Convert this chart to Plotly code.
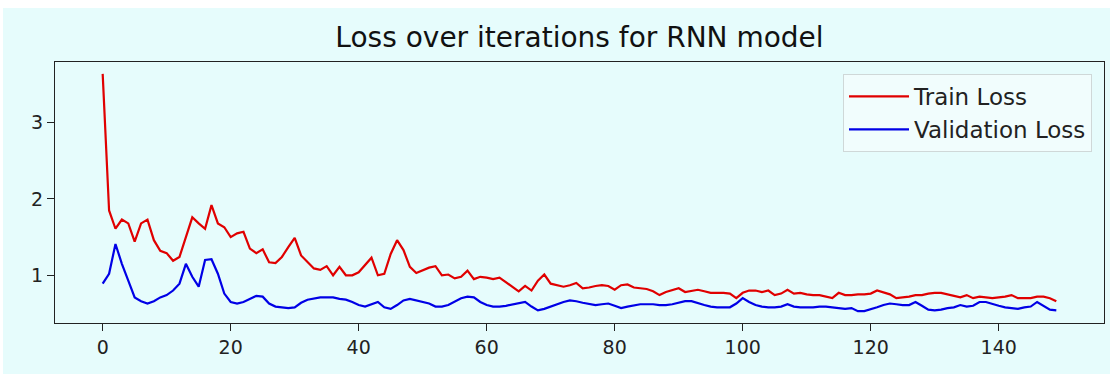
import plotly.graph_objects as go

iterations = list(range(150))

train_loss = [
    3.64, 1.85, 1.61, 1.73, 1.68, 1.44, 1.68, 1.73, 1.46, 1.32,
    1.29, 1.19, 1.24, 1.50, 1.76, 1.68, 1.61, 1.92, 1.68, 1.63,
    1.50, 1.55, 1.57, 1.35, 1.29, 1.34, 1.17, 1.16, 1.24, 1.37,
    1.49, 1.26, 1.17, 1.09, 1.07, 1.12, 1.00, 1.11, 1.00, 1.00,
    1.04, 1.13, 1.23, 1.00, 1.02, 1.28, 1.46, 1.33, 1.11, 1.03,
    1.07, 1.10, 1.12, 1.00, 1.01, 0.96, 0.98, 1.06, 0.95, 0.98,
    0.97, 0.95, 0.97, 0.91, 0.86, 0.79, 0.86, 0.80, 0.93, 1.01,
    0.89, 0.87, 0.85, 0.87, 0.90, 0.83, 0.84, 0.86, 0.87, 0.86,
    0.81, 0.87, 0.88, 0.84, 0.83, 0.82, 0.79, 0.74, 0.78, 0.80,
    0.83, 0.78, 0.80, 0.81, 0.79, 0.77, 0.77, 0.77, 0.76, 0.70,
    0.77, 0.80, 0.80, 0.78, 0.80, 0.74, 0.76, 0.81, 0.76, 0.77,
    0.75, 0.74, 0.74, 0.72, 0.70, 0.77, 0.74, 0.74, 0.75, 0.75,
    0.76, 0.80, 0.78, 0.75, 0.70, 0.71, 0.72, 0.74, 0.74, 0.76,
    0.77, 0.77, 0.75, 0.74, 0.71, 0.74, 0.70, 0.72, 0.71, 0.70,
    0.71, 0.72, 0.74, 0.70, 0.70, 0.70, 0.72, 0.72, 0.70, 0.66,
]

val_loss = [
    0.89, 1.02, 1.41, 1.15, 0.93, 0.71, 0.66, 0.63, 0.66, 0.71,
    0.74, 0.80, 0.89, 1.15, 0.98, 0.85, 1.20, 1.21, 1.02, 0.76,
    0.65, 0.63, 0.65, 0.69, 0.73, 0.72, 0.63, 0.59, 0.58, 0.57,
    0.58, 0.64, 0.68, 0.70, 0.71, 0.71, 0.71, 0.69, 0.68, 0.65,
    0.61, 0.59, 0.62, 0.65, 0.58, 0.56, 0.61, 0.67, 0.69, 0.67,
    0.66, 0.63, 0.59, 0.59, 0.61, 0.65, 0.70, 0.72, 0.71, 0.65,
    0.61, 0.59, 0.59, 0.60, 0.62, 0.64, 0.65, 0.59, 0.54, 0.56,
    0.59, 0.63, 0.65, 0.67, 0.66, 0.64, 0.62, 0.61, 0.62, 0.63,
    0.60, 0.57, 0.59, 0.61, 0.62, 0.62, 0.62, 0.61, 0.61, 0.62,
    0.64, 0.66, 0.66, 0.64, 0.61, 0.59, 0.58, 0.58, 0.58, 0.63,
    0.70, 0.65, 0.61, 0.59, 0.58, 0.58, 0.59, 0.62, 0.59, 0.58,
    0.58, 0.58, 0.59, 0.59, 0.58, 0.57, 0.56, 0.57, 0.53, 0.53,
    0.55, 0.58, 0.61, 0.63, 0.62, 0.61, 0.61, 0.65, 0.60, 0.55,
    0.54, 0.55, 0.57, 0.58, 0.61, 0.59, 0.60, 0.65, 0.65, 0.62,
    0.60, 0.58, 0.57, 0.56, 0.58, 0.59, 0.65, 0.60, 0.55, 0.54,
]

x_ticks = [0, 20, 40, 60, 80, 100, 120, 140]
y_ticks = [1, 2, 3]

BG = "#e6fcfc"
FONT = "DejaVu Sans"

# matplotlib-like 5% margins
xmin, xmax = min(iterations), max(iterations)
xpad = (xmax - xmin) * 0.05
allv = train_loss + val_loss
ymin, ymax = min(allv), max(allv)
ypad = (ymax - ymin) * 0.05

fig = go.Figure()
fig.add_trace(go.Scatter(x=iterations, y=train_loss, mode="lines", name="Train Loss",
                         line=dict(color="#e00000", width=2.2)))
fig.add_trace(go.Scatter(x=iterations, y=val_loss, mode="lines", name="Validation Loss",
                         line=dict(color="#0000e6", width=2.2)))

W, H = 1110, 374
L, R, T, B = 55, 6, 62, 51
pw, ph = W - L - R, H - T - B

def px_to_paper_x(px):
    return (px - L) / pw

def px_to_paper_y(py):
    return 1 - (py - T) / ph

fig.update_layout(
    width=W, height=H,
    margin=dict(l=L, r=R, t=T, b=B, pad=0),
    paper_bgcolor=BG,
    plot_bgcolor=BG,
    font=dict(family=FONT, color="#222222"),
    title=dict(text="Loss over iterations for RNN model", x=0.5, xref="paper",
               xanchor="center", y=1 - 37 / H, yanchor="middle",
               font=dict(size=28, family=FONT, color="#111111")),
    xaxis=dict(range=[xmin - xpad, xmax + xpad], tickvals=x_ticks,
               ticktext=[str(v) for v in x_ticks],
               showgrid=False, zeroline=False, showline=True, mirror=True,
               linecolor="#222222", linewidth=1.3, ticks="outside", ticklen=7,
               tickwidth=1.3, tickcolor="#222222", tickfont=dict(size=19, family=FONT)),
    yaxis=dict(range=[ymin - ypad, ymax + ypad], tickvals=y_ticks,
               ticktext=[str(v) for v in y_ticks],
               showgrid=False, zeroline=False, showline=True, mirror=True,
               linecolor="#222222", linewidth=1.3, ticks="outside", ticklen=7,
               tickwidth=1.3, tickcolor="#222222", tickfont=dict(size=19, family=FONT)),
    legend=dict(x=px_to_paper_x(1092), xanchor="right", y=px_to_paper_y(74), yanchor="top",
                bgcolor="rgba(255,255,255,0.45)", bordercolor="#cfd8d8", borderwidth=1,
                font=dict(size=23, family=FONT, color="#222222"),
                itemwidth=60, tracegroupgap=2),
    showlegend=True,
)

# white strips at top and left edges of the picture
fig.add_shape(type="rect", xref="paper", yref="paper", layer="below",
              x0=px_to_paper_x(0), x1=px_to_paper_x(W), y0=px_to_paper_y(8), y1=px_to_paper_y(0),
              fillcolor="white", line=dict(width=0))
fig.add_shape(type="rect", xref="paper", yref="paper", layer="below",
              x0=px_to_paper_x(0), x1=px_to_paper_x(3), y0=px_to_paper_y(H), y1=px_to_paper_y(0),
              fillcolor="white", line=dict(width=0))

fig.write_html("out.html")
